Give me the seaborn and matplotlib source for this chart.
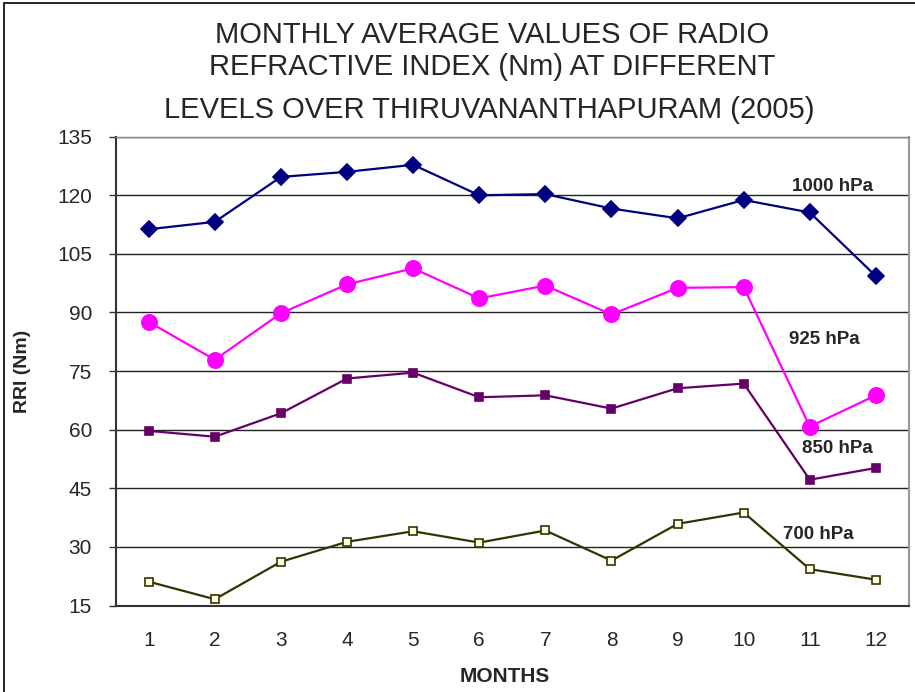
import numpy as np
import pandas as pd
import matplotlib
matplotlib.use("Agg")
import matplotlib.pyplot as plt
import seaborn as sns
from matplotlib.patches import Rectangle

# data
months = list(range(1, 13))
hpa_1000 = [111.3, 113.2, 124.7, 126.0, 127.8, 120.0, 120.3, 116.6, 114.1, 118.8, 115.6, 99.3]
hpa_925 = [87.6, 77.9, 89.8, 97.2, 101.3, 93.6, 96.9, 89.5, 96.3, 96.5, 60.8, 68.8]
hpa_850 = [59.7, 58.2, 64.2, 73.1, 74.6, 68.3, 68.8, 65.4, 70.6, 71.8, 47.2, 50.2]
hpa_700 = [21.1, 16.6, 26.2, 31.3, 34.0, 31.1, 34.2, 26.5, 35.9, 38.8, 24.3, 21.6]
y_ticks = [15, 30, 45, 60, 75, 90, 105, 120, 135]

sns.set_style("white")
plt.rcParams["font.family"] = ["Liberation Sans", "DejaVu Sans"]

fig = plt.figure(figsize=(9.15, 6.92), dpi=100)
ax = fig.add_axes([0.1264, 0.125, 0.8670, 0.6775])

series = [
    ("1000 hPa", hpa_1000, "#000080", "D", 8.5, "#000080"),
    ("925 hPa", hpa_925, "#FF00FF", "o", 11, "#FF00FF"),
    ("850 hPa", hpa_850, "#660066", "s", 5.5, "#660066"),
    ("700 hPa", hpa_700, "#333300", "s", 6, "#FFFFE0"),
]

for name, vals, col, mk, ms, face in series:
    sns.lineplot(x=months, y=vals, ax=ax, color=col, marker=mk, markersize=ms,
                 markerfacecolor=face, markeredgecolor=col, markeredgewidth=1.2,
                 linewidth=1.6, zorder=3)

# series labels placed inside the plot
label_pos = {"1000 hPa": (11.34, 122.2), "925 hPa": (11.22, 83.0),
             "850 hPa": (11.42, 55.2), "700 hPa": (11.13, 33.3)}
for name, (lx, ly) in label_pos.items():
    ax.text(lx, ly, name, ha="center", va="center", fontsize=13.5, fontweight="bold")

ax.set_xlim(0.5, 12.5)
ax.set_ylim(15, 135)
ax.set_yticks(y_ticks)
ax.set_xticks(months)
ax.set_xticklabels([str(m) for m in months], fontsize=15)
ax.set_yticklabels([str(t) for t in y_ticks], fontsize=15)
ax.tick_params(axis="y", left=True, direction="out", length=5, width=1, color="#333333", pad=12)
ax.tick_params(axis="x", length=0, pad=18)

ax.grid(axis="y", color="#222222", linewidth=1)
ax.set_axisbelow(True)

for s in ["left", "bottom"]:
    ax.spines[s].set_color("#333333")
    ax.spines[s].set_linewidth(1.5)
ax.spines["right"].set_color("#999999")
ax.spines["right"].set_linewidth(1.5)
ax.spines["top"].set_color("#888888")
ax.spines["top"].set_linewidth(1)

ax.set_xlabel("MONTHS", fontsize=15, fontweight="bold")
ax.xaxis.set_label_coords(0.491, -0.151)
ax.xaxis.label.set_va("center")
ax.set_ylabel("RRI (Nm)", fontsize=14, fontweight="bold")
ax.yaxis.set_label_coords(-0.118, 0.50)
ax.yaxis.label.set_va("center")

# title lines (uneven spacing as in the reference)
fig.text(0.538, 1 - 35 / 692, "MONTHLY AVERAGE VALUES OF RADIO", ha="center", va="center", fontsize=21)
fig.text(0.538, 1 - 67 / 692, "REFRACTIVE INDEX (Nm) AT DIFFERENT", ha="center", va="center", fontsize=21)
fig.text(0.535, 1 - 110 / 692, "LEVELS OVER THIRUVANANTHAPURAM (2005)", ha="center", va="center", fontsize=21)

# outer chart frame
fig.patches.append(Rectangle((4 / 915, -0.1), 1.2, 1.1 - 3 / 692, transform=fig.transFigure,
                             fill=False, edgecolor="black", linewidth=1.2))

fig.savefig("out.png", dpi=100)
